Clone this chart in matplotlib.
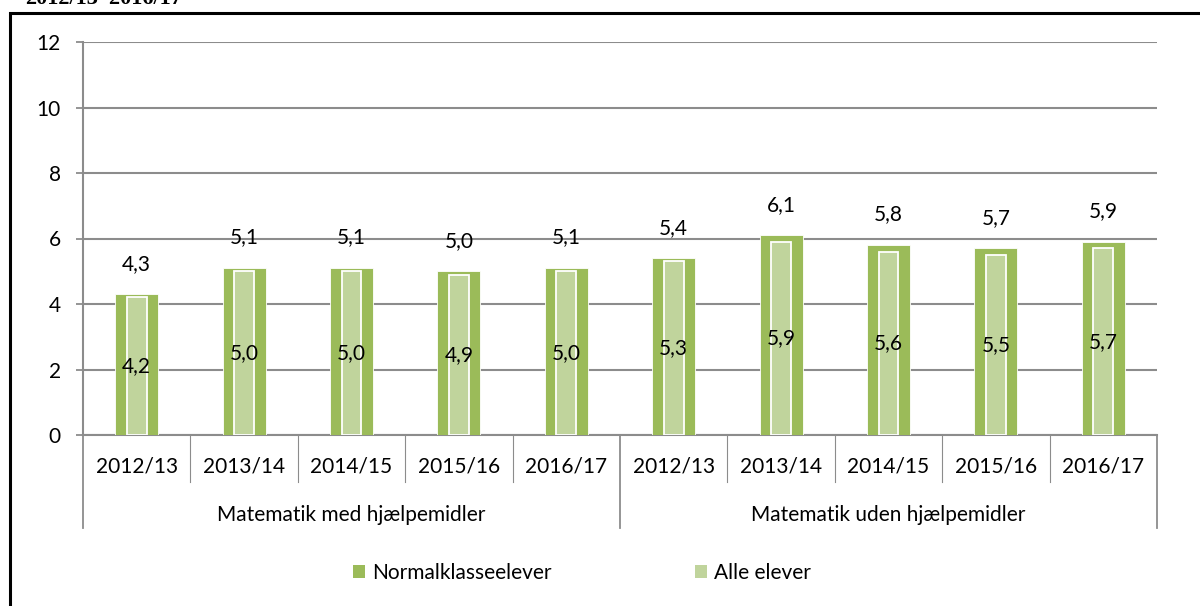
import matplotlib.pyplot as plt
from matplotlib.patches import Patch, Rectangle

# Data
years = ['2012/13', '2013/14', '2014/15', '2015/16', '2016/17'] * 2
groups = ['Matematik med hjælpemidler', 'Matematik uden hjælpemidler']
normalklasse = [4.3, 5.1, 5.1, 5.0, 5.1, 5.4, 6.1, 5.8, 5.7, 5.9]
alle_elever = [4.2, 5.0, 5.0, 4.9, 5.0, 5.3, 5.9, 5.6, 5.5, 5.7]

dark = '#9BBB59'
light = '#C0D49C'
grid_col = '#8C8C8C'
fnt = 'Lato'

plt.rcParams['font.family'] = [fnt, 'DejaVu Sans']

fig = plt.figure(figsize=(12, 6.06), dpi=100)
ax = fig.add_axes([83 / 1200, 1 - 435 / 606, (1157 - 83) / 1200, 393 / 606])

x = list(range(len(years)))
ax.bar(x, normalklasse, width=0.40, color=dark, edgecolor='white', linewidth=0.6, zorder=3)
ax.bar(x, alle_elever, width=0.185, color=light, edgecolor='white', linewidth=1.3, zorder=4)


def komma(v):
    return f'{v:.1f}'.replace('.', ',')


for xi, v in zip(x, normalklasse):
    ax.annotate(komma(v), (xi, v), xytext=(0, 22), textcoords='offset points',
                ha='center', va='center', fontsize=15, zorder=5)
for xi, v in zip(x, alle_elever):
    ax.text(xi, v / 2, komma(v), ha='center', va='center', fontsize=15, zorder=5)

ax.set_xlim(-0.5, len(years) - 0.5)
ax.set_ylim(0, 12)
ax.set_yticks(range(0, 13, 2))
ax.tick_params(axis='y', length=5, color=grid_col, width=1.3, pad=11, labelsize=15)
ax.set_xticks([])
ax.grid(axis='y', color=grid_col, linewidth=1.5, zorder=0)
for s in ['top', 'right']:
    ax.spines[s].set_visible(False)
ax.spines['left'].set_color(grid_col)
ax.spines['left'].set_linewidth(1.5)
ax.spines['bottom'].set_color(grid_col)
ax.spines['bottom'].set_linewidth(1.5)

# kategoriakse i to niveauer
tr = ax.get_xaxis_transform()
for k in range(len(years) + 1):
    bund = -0.237 if k % 5 == 0 else -0.12
    ax.plot([k - 0.5, k - 0.5], [0, bund], transform=tr, color=grid_col,
            linewidth=1.3 if k % 5 == 0 else 0.8, clip_on=False)
for xi, yl in zip(x, years):
    ax.text(xi, -0.081, yl, transform=tr, ha='center', va='center', fontsize=15)
for i, g in enumerate(groups):
    ax.text(i * 5 + 2, -0.204, g, transform=tr, ha='center', va='center', fontsize=15)

# legende
handles = [Patch(facecolor=dark, label='Normalklasseelever'),
           Patch(facecolor=light, label='Alle elever')]
fig.legend(handles=handles, loc='center', bbox_to_anchor=(0.485, 1 - 573 / 606),
           ncol=2, frameon=False, fontsize=15, handlelength=0.55, handleheight=0.55,
           handletextpad=0.35, columnspacing=6.9)

# ramme og afskaaret overskrift
fig.add_artist(Rectangle((10 / 1200, -0.1), 1.2, 1 - 13 / 606 + 0.1, transform=fig.transFigure,
                         fill=False, edgecolor='black', linewidth=2.2))
fig.text(25 / 1200, 1 - 4 / 606, '2012/13\u20132016/17', family='Liberation Serif',
         fontweight='bold', fontsize=16, va='baseline', ha='left')

fig.savefig('out.png', dpi=100)
